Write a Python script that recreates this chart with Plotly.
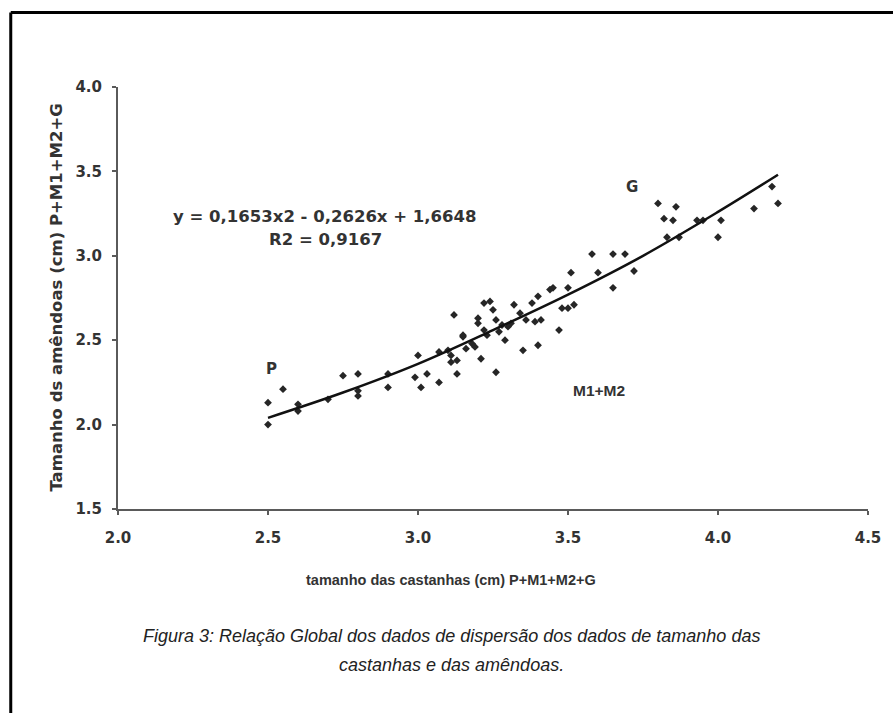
import plotly.graph_objects as go

# Scatter data
x_vals = [2.50, 2.50, 2.55, 2.60, 2.60, 2.70, 2.75, 2.80, 2.80, 2.80, 2.90, 2.90,
          3.00, 2.99, 3.01, 3.03, 3.07, 3.07, 3.10, 3.11, 3.13, 3.13, 3.12, 3.15,
          3.16, 3.15, 3.19, 3.20, 3.20, 3.21, 3.22, 3.24, 3.25, 3.23, 3.26, 3.26,
          3.29, 3.28, 3.32, 3.31, 3.34, 3.35, 3.36, 3.38, 3.40, 3.44, 3.45, 3.51,
          3.50, 3.48, 3.50, 3.52, 3.47, 3.40, 3.39, 3.41, 3.27, 3.30, 3.22, 3.18,
          3.11,
          3.58, 3.65, 3.69, 3.60, 3.65, 3.72, 3.80, 3.86, 3.82, 3.85, 3.83, 3.87,
          3.93, 3.95, 4.01, 4.00, 4.12, 4.18, 4.20]
y_vals = [2.00, 2.13, 2.21, 2.12, 2.08, 2.15, 2.29, 2.30, 2.20, 2.17, 2.30, 2.22,
          2.41, 2.28, 2.22, 2.30, 2.25, 2.43, 2.44, 2.37, 2.38, 2.30, 2.65, 2.52,
          2.45, 2.53, 2.46, 2.63, 2.60, 2.39, 2.72, 2.73, 2.68, 2.53, 2.62, 2.31,
          2.50, 2.59, 2.71, 2.60, 2.66, 2.44, 2.62, 2.72, 2.76, 2.80, 2.81, 2.90,
          2.81, 2.69, 2.69, 2.71, 2.56, 2.47, 2.61, 2.62, 2.55, 2.58, 2.56, 2.48,
          2.41,
          3.01, 3.01, 3.01, 2.90, 2.81, 2.91, 3.31, 3.29, 3.22, 3.21, 3.11, 3.11,
          3.21, 3.21, 3.21, 3.11, 3.28, 3.41, 3.31]

# Trend curve
curve_x = [2.50, 2.75, 3.00, 3.25, 3.50, 3.75, 4.00, 4.20]
curve_y = [2.04, 2.19, 2.36, 2.56, 2.77, 3.00, 3.26, 3.48]

x_ticks = [2.0, 2.5, 3.0, 3.5, 4.0, 4.5]
y_ticks = [1.5, 2.0, 2.5, 3.0, 3.5, 4.0]

LIB = "Liberation Sans"
DJV = "DejaVu Sans"
TXT = "#333333"

fig = go.Figure()
fig.add_trace(go.Scatter(x=x_vals, y=y_vals, mode="markers",
                         marker=dict(symbol="diamond", size=6, color="#262626"),
                         showlegend=False, cliponaxis=False))
fig.add_trace(go.Scatter(x=curve_x, y=curve_y, mode="lines",
                         line=dict(color="#111111", width=2.5, shape="spline"),
                         showlegend=False))

axis_common = dict(showgrid=False, zeroline=False, showline=True,
                   linecolor="#5a5a5a", linewidth=2, ticks="outside",
                   ticklen=4, tickwidth=1.5, tickcolor="#5a5a5a",
                   tickformat=".1f",
                   tickfont=dict(family=DJV, size=15, color=TXT, weight="bold"))

fig.update_xaxes(range=[2.0, 4.5], tickvals=x_ticks, ticklabelstandoff=10, **axis_common)
fig.update_yaxes(range=[1.5, 4.0], tickvals=y_ticks, ticklabelstandoff=7, **axis_common)

# Axis titles
fig.add_annotation(x=0.444, y=-0.168, xref="paper", yref="paper", showarrow=False,
                   text="tamanho das castanhas (cm) P+M1+M2+G", yanchor="middle",
                   font=dict(family=LIB, size=14.5, color=TXT, weight="bold"))
fig.add_annotation(x=-0.0833, y=0.5, xref="paper", yref="paper", showarrow=False,
                   text="Tamanho ds amêndoas (cm) P+M1+M2+G", textangle=-90,
                   xanchor="center", yanchor="middle",
                   font=dict(family=DJV, size=16.5, color=TXT, weight="bold"))

eq_font = dict(family=DJV, size=16.5, color=TXT, weight="bold")
fig.add_annotation(x=2.69, y=3.23, xref="x", yref="y", text="y = 0,1653x2 - 0,2626x + 1,6648",
                   showarrow=False, font=eq_font)
fig.add_annotation(x=2.69, y=3.094, xref="x", yref="y", text="R2 = 0,9167",
                   showarrow=False, font=eq_font)
fig.add_annotation(x=3.713, y=3.408, xref="x", yref="y", text="G", showarrow=False,
                   font=dict(family=DJV, size=15, color=TXT, weight="bold"))
fig.add_annotation(x=2.51, y=2.33, xref="x", yref="y", text="P", showarrow=False,
                   font=dict(family=DJV, size=15, color=TXT, weight="bold"))
fig.add_annotation(x=3.603, y=2.205, xref="x", yref="y", text="M1+M2", showarrow=False,
                   font=dict(family=LIB, size=15.5, color=TXT, weight="bold"))

cap_font = dict(family="Liberation Sans Narrow, Liberation Sans", size=18, color="#222222",
                style="italic")
fig.add_annotation(x=0.445, y=-0.30, xref="paper", yref="paper", showarrow=False,
                   text="Figura 3: Relação Global dos dados de dispersão dos dados de tamanho das",
                   font=cap_font, yanchor="middle")
fig.add_annotation(x=0.445, y=-0.37, xref="paper", yref="paper", showarrow=False,
                   text="castanhas e das amêndoas.",
                   font=cap_font, yanchor="middle")

# Frame lines (top and left)
fig.add_shape(type="line", xref="paper", yref="paper", x0=-0.143, x1=1.1,
              y0=1.1765, y1=1.1765, line=dict(color="black", width=3))
fig.add_shape(type="line", xref="paper", yref="paper", x0=-0.143, x1=-0.143,
              y0=1.1765, y1=-0.6, line=dict(color="black", width=3))

fig.update_layout(width=893, height=713,
                  margin=dict(l=118, r=19, t=87, b=204),
                  plot_bgcolor="white", paper_bgcolor="white",
                  showlegend=False)

fig.write_html("out.html")
